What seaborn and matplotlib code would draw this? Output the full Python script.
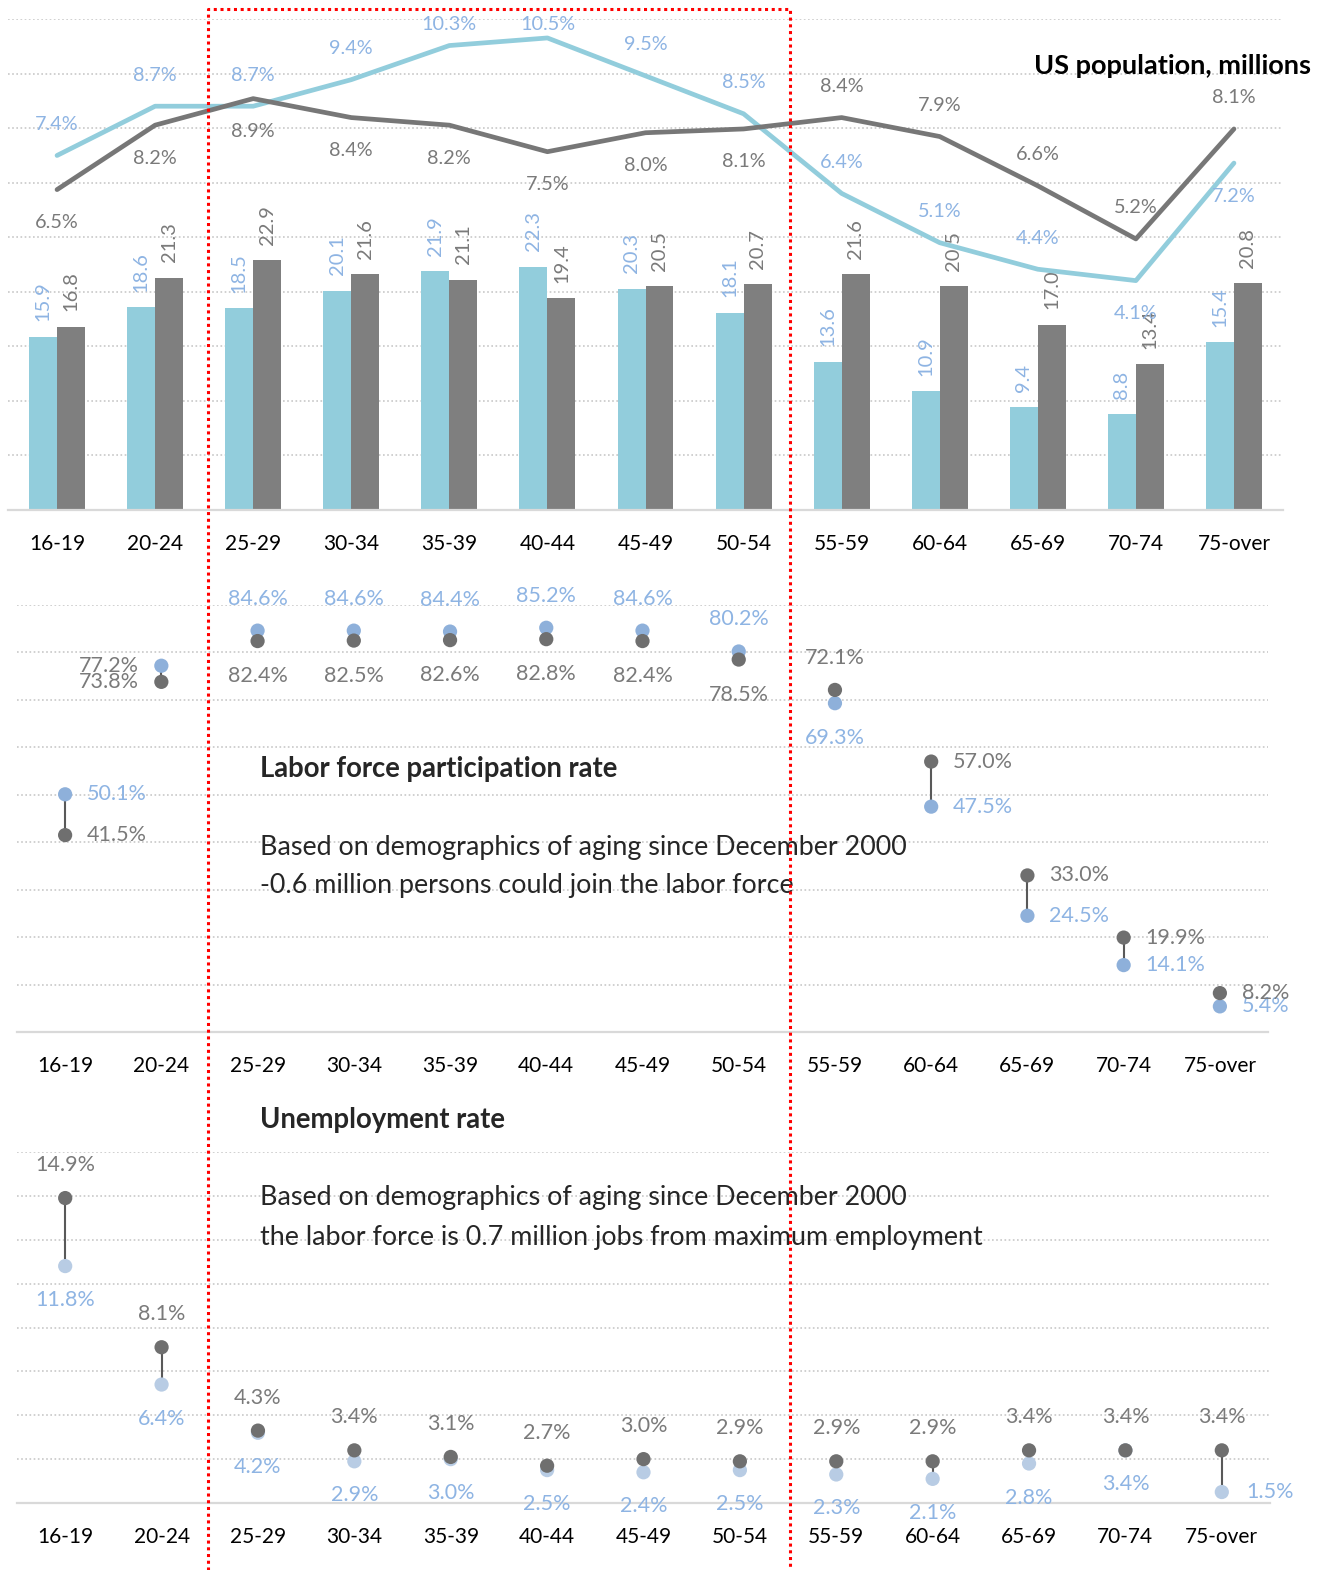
import numpy as np
import pandas as pd
import matplotlib
matplotlib.use("Agg")
import matplotlib.pyplot as plt
from matplotlib.lines import Line2D
import seaborn as sns

# Data
ages = ["16-19", "20-24", "25-29", "30-34", "35-39", "40-44", "45-49",
        "50-54", "55-59", "60-64", "65-69", "70-74", "75-over"]

pop_blue = [15.9, 18.6, 18.5, 20.1, 21.9, 22.3, 20.3, 18.1, 13.6, 10.9, 9.4, 8.8, 15.4]
pop_gray = [16.8, 21.3, 22.9, 21.6, 21.1, 19.4, 20.5, 20.7, 21.6, 20.5, 17.0, 13.4, 20.8]

share_blue = [7.4, 8.7, 8.7, 9.4, 10.3, 10.5, 9.5, 8.5, 6.4, 5.1, 4.4, 4.1, 7.2]
share_gray = [6.5, 8.2, 8.9, 8.4, 8.2, 7.5, 8.0, 8.1, 8.4, 7.9, 6.6, 5.2, 8.1]

lfpr_blue = [50.1, 77.2, 84.6, 84.6, 84.4, 85.2, 84.6, 80.2, 69.3, 47.5, 24.5, 14.1, 5.4]
lfpr_gray = [41.5, 73.8, 82.4, 82.5, 82.6, 82.8, 82.4, 78.5, 72.1, 57.0, 33.0, 19.9, 8.2]

ur_blue = [11.8, 6.4, 4.2, 2.9, 3.0, 2.5, 2.4, 2.5, 2.3, 2.1, 2.8, 3.4, 1.5]
ur_gray = [14.9, 8.1, 4.3, 3.4, 3.1, 2.7, 3.0, 2.9, 2.9, 2.9, 3.4, 3.4, 3.4]

# label placement (style, not data)
share_blue_pos = ["up"] * 11 + ["down", "down"]
share_gray_pos = ["down"] * 8 + ["up"] * 5
lfpr_mode = ["right", "left"] + ["updown"] * 7 + ["right"] * 4
ur_mode = ["updown"] * 12 + ["blue_right"]

# Colors
BAR_BLUE = "#92CDDC"
BAR_GRAY = "#7F7F7F"
TXT_BLUE = "#8EB4E3"
TXT_GRAY = "#7A7A7A"
DOT_BLUE = "#8EB0DA"
DOT_BLUE2 = "#B8CCE4"
DOT_GRAY = "#6F6F6F"
GRID = "#C8C8C8"
AXIS = "#D9D9D9"

sns.set_style("white")
plt.rcParams["font.family"] = ["Lato", "DejaVu Sans"]

W, H = 1330, 1570
fig = plt.figure(figsize=(W / 100, H / 100), dpi=100)
x = np.arange(len(ages))


def fx(px):
    return px / W


def fy(py):
    return 1 - py / H


def style_axis(ax, yticks):
    for s in ["top", "left", "right"]:
        ax.spines[s].set_visible(False)
    ax.spines["bottom"].set_color(AXIS)
    ax.spines["bottom"].set_linewidth(1.6)
    ax.set_yticks(yticks)
    ax.set_yticklabels([])
    ax.tick_params(axis="y", length=0)
    ax.yaxis.grid(True, color=GRID, linestyle=(0, (1, 1.5)), linewidth=1.2)
    ax.set_axisbelow(True)
    ax.set_xlim(-0.5, len(ages) - 0.5)
    ax.set_xticks(x)
    ax.set_xticklabels(ages, fontsize=15, color="black")
    ax.set_xticks(np.arange(-0.5, len(ages)), minor=True)
    ax.tick_params(axis="x", which="major", length=0, pad=17.5)
    ax.tick_params(axis="x", which="minor", length=6, width=1.5, color=AXIS)
    ax.set_xlabel("")
    ax.set_ylabel("")


# ---------- Top panel: population bars + share lines ----------
ax1 = fig.add_axes([fx(8), fy(510), fx(1283 - 8), (510 - 19) / H])
df_pop = pd.DataFrame({
    "age": ages * 2,
    "pop": pop_blue + pop_gray,
    "series": ["Dec 2000"] * len(ages) + ["Now"] * len(ages),
})
sns.barplot(data=df_pop, x="age", y="pop", hue="series",
            palette=[BAR_BLUE, BAR_GRAY], width=0.57, ax=ax1,
            legend=False, edgecolor="none", saturation=1)
ax1.set_ylim(0, 45)
style_axis(ax1, np.arange(0, 46, 5))
for cont, col in zip(ax1.containers, [TXT_BLUE, TXT_GRAY]):
    ax1.bar_label(cont, fmt="%.1f", rotation=90, padding=11,
                  color=col, fontsize=14.5)

ax1b = ax1.twinx()
sns.lineplot(x=x, y=share_blue, ax=ax1b, color=BAR_BLUE, linewidth=3.4)
sns.lineplot(x=x, y=share_gray, ax=ax1b, color="#777777", linewidth=3.4)
ax1b.set_ylim(-1.95, 11.0)
ax1b.set_xlim(-0.5, len(ages) - 0.5)
ax1b.axis("off")

# labels near the top are kept inside the chart area
top_limit = fig.transFigure.transform((0, fy(24)))[1]
for i in range(len(ages)):
    for vals, pos, col in ((share_blue, share_blue_pos, TXT_BLUE),
                           (share_gray, share_gray_pos, TXT_GRAY)):
        v = vals[i]
        dy = 31 if pos[i] == "up" else -33
        py = ax1b.transData.transform((x[i], v))[1]
        if py + dy > top_limit:
            dy = top_limit - py
        ax1b.annotate(f"{v:.1f}%", (x[i], v),
                      xytext=(0, dy), textcoords="offset pixels",
                      ha="center", va="center", color=col, fontsize=14.3)

fig.text(fx(1311), fy(66), "US population, millions", ha="right",
         va="center", fontsize=19.5, fontweight="bold", color="black")


# ---------- Dumbbell helper ----------
def dumbbell(ax, blue, gray, blue_dot, modes, off_up, off_dn, fs=15.5):
    ax.vlines(x, blue, gray, color="#595959", linewidth=1.5, zorder=2)
    sns.scatterplot(x=x, y=blue, ax=ax, color=blue_dot, s=105,
                    edgecolor="none", zorder=3)
    sns.scatterplot(x=x, y=gray, ax=ax, color=DOT_GRAY, s=105,
                    edgecolor="none", zorder=4)
    for i, m in enumerate(modes):
        b, g = blue[i], gray[i]
        if m == "right":
            for v, c in ((b, TXT_BLUE), (g, TXT_GRAY)):
                ax.annotate(f"{v:.1f}%", (x[i], v), xytext=(22, 0),
                            textcoords="offset pixels", ha="left",
                            va="center", color=c, fontsize=fs)
        elif m == "left":
            for v in (b, g):
                ax.annotate(f"{v:.1f}%", (x[i], v), xytext=(-22, 0),
                            textcoords="offset pixels", ha="right",
                            va="center", color=TXT_GRAY, fontsize=fs)
        elif m == "blue_right":
            ax.annotate(f"{b:.1f}%", (x[i], b), xytext=(24, 0),
                        textcoords="offset pixels", ha="left",
                        va="center", color=TXT_BLUE, fontsize=fs)
            ax.annotate(f"{g:.1f}%", (x[i], g), xytext=(0, off_up),
                        textcoords="offset pixels", ha="center",
                        va="center", color=TXT_GRAY, fontsize=fs)
        else:
            hi_b = b > g
            ax.annotate(f"{b:.1f}%", (x[i], b),
                        xytext=(0, off_up if hi_b else off_dn),
                        textcoords="offset pixels", ha="center",
                        va="center", color=TXT_BLUE, fontsize=fs)
            ax.annotate(f"{g:.1f}%", (x[i], g),
                        xytext=(0, off_dn if hi_b else off_up),
                        textcoords="offset pixels", ha="center",
                        va="center", color=TXT_GRAY, fontsize=fs)


# ---------- Middle panel: labor force participation ----------
ax2 = fig.add_axes([fx(17), fy(1032), fx(1268 - 17), (1032 - 605) / H])
dumbbell(ax2, lfpr_blue, lfpr_gray, DOT_BLUE, lfpr_mode, 32, -35)
ax2.set_ylim(0, 90)
style_axis(ax2, np.arange(0, 91, 10))

fig.text(fx(260), fy(769), "Labor force participation rate", ha="left",
         va="center", fontsize=19.8, fontweight="bold")
fig.text(fx(260), fy(847), "Based on demographics of aging since December 2000",
         ha="left", va="center", fontsize=19.4)
fig.text(fx(260), fy(886), "-0.6 million persons could join the labor force",
         ha="left", va="center", fontsize=19.4)

# ---------- Bottom panel: unemployment ----------
ax3 = fig.add_axes([fx(17), fy(1503), fx(1270 - 17), (1503 - 1152) / H])
dumbbell(ax3, ur_blue, ur_gray, DOT_BLUE2, ur_mode, 33, -34)
ax3.set_ylim(1, 17)
style_axis(ax3, np.arange(1, 18, 2))

fig.text(fx(260), fy(1120), "Unemployment rate", ha="left",
         va="center", fontsize=19.8, fontweight="bold")
fig.text(fx(260), fy(1198), "Based on demographics of aging since December 2000",
         ha="left", va="center", fontsize=19.4)
fig.text(fx(260), fy(1237), "the labor force is 0.7 million jobs from maximum employment",
         ha="left", va="center", fontsize=19.4)

# ---------- Red dotted highlight box ----------
box = Line2D([fx(208), fx(208), fx(790), fx(790)],
             [0, fy(9), fy(9), 0], transform=fig.transFigure,
             color="#FF0000", linewidth=2.2, linestyle=(0, (1, 1.2)),
             zorder=10)
fig.add_artist(box)

fig.savefig("out.png", dpi=100, facecolor="white")
